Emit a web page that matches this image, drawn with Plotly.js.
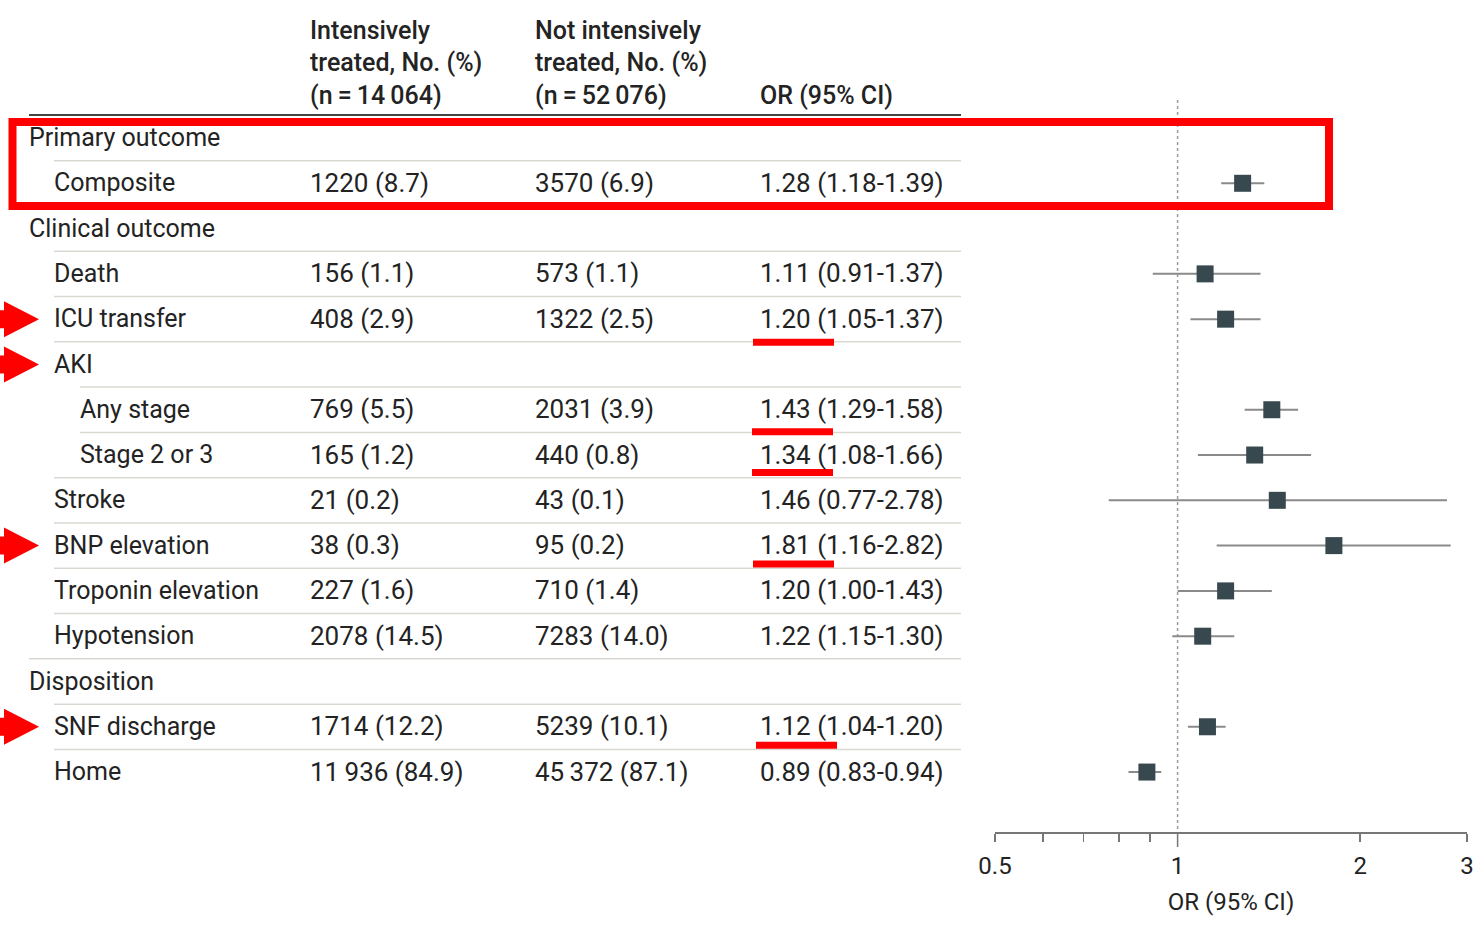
<!DOCTYPE html>
<html>
<head>
<meta charset="utf-8">
<script src="https://cdn.plot.ly/plotly-3.0.1.min.js"></script>
<style>html,body{margin:0;padding:0;background:#fff;}#chart{width:1480px;height:944px;}</style>
</head>
<body>
<div id="chart"></div>
<script>
// ---------- data ----------
const labels = ["Primary outcome","Composite","Clinical outcome","Death","ICU transfer","AKI","Any stage","Stage 2 or 3","Stroke","BNP elevation","Troponin elevation","Hypotension","Disposition","SNF discharge","Home"];
const levels = [0,1,0,1,1,1,2,2,1,1,1,1,0,1,1];
const intensive = ["","1220 (8.7)","","156 (1.1)","408 (2.9)","","769 (5.5)","165 (1.2)","21 (0.2)","38 (0.3)","227 (1.6)","2078 (14.5)","","1714 (12.2)","11\u2009936 (84.9)"];
const notIntensive = ["","3570 (6.9)","","573 (1.1)","1322 (2.5)","","2031 (3.9)","440 (0.8)","43 (0.1)","95 (0.2)","710 (1.4)","7283 (14.0)","","5239 (10.1)","45\u2009372 (87.1)"];
const orText = ["","1.28 (1.18-1.39)","","1.11 (0.91-1.37)","1.20 (1.05-1.37)","","1.43 (1.29-1.58)","1.34 (1.08-1.66)","1.46 (0.77-2.78)","1.81 (1.16-2.82)","1.20 (1.00-1.43)","1.22 (1.15-1.30)","","1.12 (1.04-1.20)","0.89 (0.83-0.94)"];
const headers = [
  ["Intensively","treated, No. (%)","(n\u2009=\u200914\u2009064)"],
  ["Not intensively","treated, No. (%)","(n\u2009=\u200952\u2009076)"],
  ["","","OR (95% CI)"]
];
// plotted estimates
const plotRows = [1,3,4,6,7,8,9,10,11,13,14];
const orPlot = [1.28,1.11,1.20,1.43,1.34,1.46,1.81,1.20,1.10,1.12,0.89];
const loPlot = [1.18,0.91,1.05,1.29,1.08,0.77,1.16,1.00,0.98,1.04,0.83];
const hiPlot = [1.39,1.37,1.37,1.58,1.66,2.78,2.82,1.43,1.24,1.20,0.94];
const tickVals = [0.5,1,2,3];
const tickText = ["0.5","1","2","3"];
const minorVals = [0.6,0.7,0.8,0.9];
const arrowRows = [4,5,9,13];
const underlineRows = [4,6,7,9,13];
const boxRows = [0,1];

// ---------- layout helpers ----------
const W = 1480, H = 944;
const ROW0 = 138, ROWH = 45.29, AXISY = 832;
const XL = 995, XR = 1467;
const px = x => x / W;
const py = y => 1 - y / H;
const rowPix = r => ROW0 + ROWH * r;
const pixRow = p => (p - ROW0) / ROWH;
const indentX = [29, 54, 80];
const colX = [310, 535, 760];
const FONT = "Roboto, 'Open Sans', sans-serif";
const TXT = "#232323";
const lmin = Math.log10(0.5), lmax = Math.log10(3);
const xPaper = v => px(XL + (Math.log10(v) - lmin) / (lmax - lmin) * (XR - XL));

const annotations = [];
function addText(x, y, text, yref, size, weight) {
  annotations.push({x: px(x - 2.5), xref: "paper", y: y, yref: yref, text: text,
    showarrow: false, xanchor: "left", yanchor: "middle",
    font: {family: FONT, size: size || 25, color: TXT, weight: weight || 400}});
}
// header
const headerY = [30, 62.5, 95];
headers.forEach((col, ci) => col.forEach((t, li) => { if (t) addText(colX[ci], py(headerY[li]), t, "paper", 25, 500); }));
// rows
labels.forEach((lab, r) => {
  addText(indentX[levels[r]], r - 0.01, lab, "y", 25);
  if (intensive[r]) addText(colX[0], r - 0.01, intensive[r], "y", 26);
  if (notIntensive[r]) addText(colX[1], r - 0.01, notIntensive[r], "y", 26);
  if (orText[r]) addText(colX[2], r - 0.01, orText[r], "y", 26);
});

const shapes = [];
// header rule
shapes.push({type: "line", xref: "paper", yref: "paper", x0: px(29), x1: px(961), y0: py(115), y1: py(115), line: {color: "#444", width: 2}});
// row separators
for (let r = 1; r < labels.length; r++) {
  shapes.push({type: "line", xref: "paper", yref: "y", x0: px(indentX[levels[r]]), x1: px(961), y0: r - 0.5, y1: r - 0.5, line: {color: "#d9d9d2", width: 1.5}});
}
// tick at 1 extended
shapes.push({type: "line", xref: "paper", yref: "paper", x0: xPaper(1), x1: xPaper(1), y0: py(AXISY), y1: py(847), line: {color: "#777", width: 1.5}});
// red box
shapes.push({type: "rect", xref: "paper", yref: "paper", x0: px(12.5), x1: px(1329), y0: py(rowPix(boxRows[0]) - 16), y1: py(rowPix(boxRows[1]) + 22.6), line: {color: "#ff0000", width: 8}, fillcolor: "rgba(0,0,0,0)"});
// red arrows
arrowRows.forEach(r => {
  const c = rowPix(r);
  const pts = [[-6, c - 9], [4, c - 9], [4, c - 18], [39, c], [4, c + 18], [4, c + 9], [-6, c + 9]];
  const path = "M " + pts.map(p => px(p[0]) + "," + py(p[1])).join(" L ") + " Z";
  shapes.push({type: "path", xref: "paper", yref: "paper", path: path, fillcolor: "#ff0000", line: {width: 0}});
});
// red underlines
const ulOffset = {4: 23, 6: 22, 7: 17.5, 9: 18.5, 13: 18.5};
const ulX = {4: [753, 834], 6: [752, 833], 7: [752, 833], 9: [753, 834], 13: [756, 837]};
underlineRows.forEach(r => {
  const y = rowPix(r) + ulOffset[r];
  shapes.push({type: "line", xref: "paper", yref: "paper", x0: px(ulX[r][0]), x1: px(ulX[r][1]), y0: py(y), y1: py(y), line: {color: "#ff0000", width: 7}});
});

const traces = [
  { // reference line at OR = 1
    x: [1, 1], y: [pixRow(100), pixRow(829)], mode: "lines", type: "scatter",
    line: {color: "#9a9a9a", width: 1.5, dash: "dot"}, hoverinfo: "skip", showlegend: false
  },
  {
    x: orPlot, y: plotRows, type: "scatter", mode: "markers",
    marker: {symbol: "square", size: 17, color: "#37484f"},
    error_x: {type: "data", symmetric: false,
      array: orPlot.map((v, i) => hiPlot[i] - v),
      arrayminus: orPlot.map((v, i) => v - loPlot[i]),
      width: 0, color: "#8a8a8a", thickness: 2},
    showlegend: false, hoverinfo: "x+y"
  }
];

const layout = {
  width: W, height: H,
  margin: {l: 0, r: 0, t: 0, b: 0},
  paper_bgcolor: "#fff", plot_bgcolor: "rgba(0,0,0,0)",
  showlegend: false,
  xaxis: {
    type: "log", domain: [px(XL), px(XR)], range: [lmin, lmax],
    tickmode: "array", tickvals: tickVals, ticktext: tickText,
    ticks: "outside", ticklen: 8, tickwidth: 1.5, tickcolor: "#777",
    minor: {tickmode: "array", tickvals: minorVals, ticks: "outside", ticklen: 8, tickwidth: 1.5, tickcolor: "#777"},
    showline: true, linecolor: "#777", linewidth: 1.5,
    showgrid: false, zeroline: false,
    tickfont: {family: FONT, size: 24, color: TXT},
    ticklabelstandoff: 4,
    title: {text: "OR (95% CI)", font: {family: FONT, size: 24, color: TXT}, standoff: 14},
    anchor: "y", fixedrange: true
  },
  yaxis: {
    domain: [1 - AXISY / H, 1], range: [pixRow(AXISY), pixRow(0)],
    showticklabels: false, showgrid: false, zeroline: false, showline: false, ticks: "",
    fixedrange: true
  },
  annotations: annotations,
  shapes: shapes
};

Plotly.newPlot("chart", traces, layout, {displayModeBar: false, staticPlot: true});
</script>
</body>
</html>
